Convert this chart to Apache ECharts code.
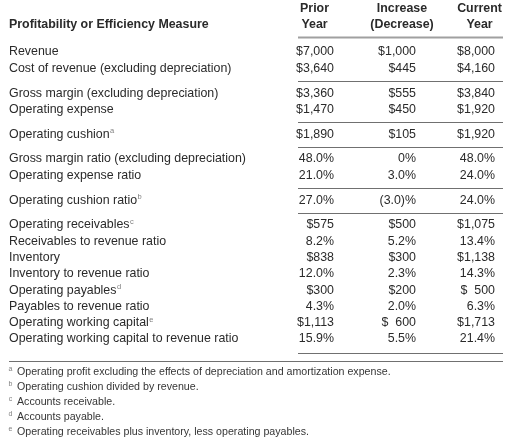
<!DOCTYPE html>
<html>
<head>
<meta charset="utf-8">
<script src="https://cdn.jsdelivr.net/npm/echarts@6/dist/echarts.min.js"></script>
<style>
  html, body { margin: 0; padding: 0; background: #ffffff; }
  #chart { width: 515px; height: 446px; }
</style>
</head>
<body>
<div id="chart"></div>
<script>
// ---- data ----
const measureHead = 'Profitability or Efficiency Measure';
const columnHeads = [['Prior', 'Year'], ['Increase', '(Decrease)'], ['Current', 'Year']];
const measures = [
  'Revenue',
  'Cost of revenue (excluding depreciation)',
  'Gross margin (excluding depreciation)',
  'Operating expense',
  'Operating cushion',
  'Gross margin ratio (excluding depreciation)',
  'Operating expense ratio',
  'Operating cushion ratio',
  'Operating receivables',
  'Receivables to revenue ratio',
  'Inventory',
  'Inventory to revenue ratio',
  'Operating payables',
  'Payables to revenue ratio',
  'Operating working capital',
  'Operating working capital to revenue ratio'
];
const noteRefs = ['', '', '', '', 'a', '', '', 'b', 'c', '', '', '', 'd', '', 'e', ''];
const sections = [0, 0, 1, 1, 2, 3, 3, 4, 5, 5, 5, 5, 5, 5, 5, 5];
const priorYear = ['$7,000', '$3,640', '$3,360', '$1,470', '$1,890', '48.0%', '21.0%', '27.0%',
  '$575', '8.2%', '$838', '12.0%', '$300', '4.3%', '$1,113', '15.9%'];
const change = ['$1,000', '$445', '$555', '$450', '$105', '0%', '3.0%', '(3.0)%',
  '$500', '5.2%', '$300', '2.3%', '$200', '2.0%', '$  600', '5.5%'];
const currentYear = ['$8,000', '$4,160', '$3,840', '$1,920', '$1,920', '48.0%', '24.0%', '24.0%',
  '$1,075', '13.4%', '$1,138', '14.3%', '$  500', '6.3%', '$1,713', '21.4%'];
const footnoteKeys = ['a', 'b', 'c', 'd', 'e'];
const footnotes = [
  'Operating profit excluding the effects of depreciation and amortization expense.',
  'Operating cushion divided by revenue.',
  'Accounts receivable.',
  'Accounts payable.',
  'Operating receivables plus inventory, less operating payables.'
];

// ---- layout / style ----
const FONT = '"Liberation Sans", Arial, Helvetica, sans-serif';
const BODY_SIZE = 12.4;
const TEXT = '#2a2a2a';
const SUP = '#808080';
const ROW_H = 16.3, SECTION_GAP = 8.5, FIRST_ROW = 52;
const LABEL_X = 9;
const VALUE_RIGHT = [334, 416, 495];
const HEAD_CENTER = [314.5, 402, 479.5];
const RULE_LEFT = 298, RULE_RIGHT = 503;

function rowY(i) { return FIRST_ROW + i * ROW_H + sections[i] * SECTION_GAP; }

const valueCols = [priorYear, change, currentYear];

function txt(api, x, y, text, opts) {
  const p = api.coord([x, y]);
  return {
    type: 'text',
    x: p[0], y: p[1],
    style: Object.assign({
      text: text,
      fill: TEXT,
      fontFamily: FONT,
      fontSize: BODY_SIZE,
      align: 'left',
      verticalAlign: 'middle'
    }, opts || {})
  };
}

function line(api, x1, x2, y, color, w) {
  const a = api.coord([x1, y]);
  const b = api.coord([x2, y]);
  return {
    type: 'line',
    shape: { x1: a[0], y1: a[1], x2: b[0], y2: b[1] },
    style: { stroke: color, lineWidth: w }
  };
}

// body rows
function renderRow(params, api) {
  const i = params.dataIndex;
  const y = rowY(i);
  const children = [];
  const label = noteRefs[i] ? measures[i] + '{sup|' + noteRefs[i] + '}' : measures[i];
  children.push(txt(api, LABEL_X, y, label, {
    lineHeight: 14,
    rich: {
      sup: { fontSize: 7.5, fill: SUP, fontFamily: FONT, verticalAlign: 'top', lineHeight: 10, padding: [0, 0, 0, 0.5] }
    }
  }));
  valueCols.forEach(function (col, c) {
    children.push(txt(api, VALUE_RIGHT[c], y, col[i], { align: 'right' }));
  });
  return { type: 'group', children: children };
}

// header
function renderHeader(params, api) {
  const children = [];
  children.push(txt(api, LABEL_X, 25, measureHead, { fontWeight: 'bold' }));
  columnHeads.forEach(function (h, c) {
    children.push(txt(api, HEAD_CENTER[c], 9, h[0], { fontWeight: 'bold', align: 'center' }));
    children.push(txt(api, HEAD_CENTER[c], 25, h[1], { fontWeight: 'bold', align: 'center' }));
  });
  return { type: 'group', children: children };
}

// rules
function renderRules(params, api) {
  const children = [];
  children.push(line(api, RULE_LEFT, RULE_RIGHT, 37.5, '#a0a0a0', 2));
  for (let i = 1; i < measures.length; i++) {
    if (sections[i] !== sections[i - 1]) {
      const y = Math.round((rowY(i - 1) + rowY(i)) / 2) + 0.5;
      children.push(line(api, RULE_LEFT, RULE_RIGHT, y, '#707070', 1));
    }
  }
  const last = rowY(measures.length - 1);
  children.push(line(api, RULE_LEFT, RULE_RIGHT, Math.round(last + 14) + 0.5, '#707070', 1));
  children.push(line(api, LABEL_X, RULE_RIGHT, Math.round(last + 22) + 0.5, '#707070', 1));
  return { type: 'group', children: children };
}

// footnotes
const FOOT_FIRST = 372, FOOT_H = 15;
function renderFoot(params, api) {
  const i = params.dataIndex;
  const y = FOOT_FIRST + i * FOOT_H;
  return {
    type: 'group',
    children: [
      txt(api, 10.5, y - 2.5, footnoteKeys[i], { fontSize: 7, fill: SUP, align: 'center' }),
      txt(api, 17, y, footnotes[i], { fontSize: 10.65, fill: '#363636' })
    ]
  };
}

const chart = echarts.init(document.getElementById('chart'), null, { renderer: 'canvas' });
chart.setOption({
  animation: false,
  backgroundColor: '#ffffff',
  grid: { left: 0, right: 0, top: 0, bottom: 0 },
  xAxis: { type: 'value', min: 0, max: 515, show: false },
  yAxis: { type: 'value', min: 0, max: 446, inverse: true, show: false },
  series: [
    { type: 'custom', renderItem: renderRules, data: [[0, 0]], silent: true },
    { type: 'custom', renderItem: renderHeader, data: [[0, 0]], silent: true },
    { type: 'custom', renderItem: renderRow, data: measures.map(function (m, i) { return [i, i]; }), silent: true },
    { type: 'custom', renderItem: renderFoot, data: footnotes.map(function (f, i) { return [i, i]; }), silent: true }
  ]
});
</script>
</body>
</html>
